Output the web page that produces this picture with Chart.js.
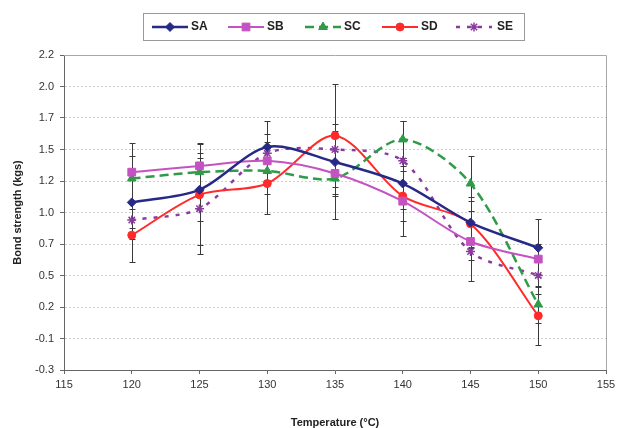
<!DOCTYPE html>
<html><head><meta charset="utf-8">
<script src="https://cdn.jsdelivr.net/npm/chart.js@4.4.0/dist/chart.umd.min.js"></script>
<style>html,body{margin:0;padding:0;background:#fff;}#wrap{width:620px;height:428px;position:relative;}</style>
</head><body><div id="wrap"><canvas id="c" width="620" height="428"></canvas></div>
<script>
// ---- data ----
const temperatures = [120, 125, 130, 135, 140, 145, 150];
const seriesNames = ['SA', 'SB', 'SC', 'SD', 'SE'];
const SA = [1.03, 1.13, 1.47, 1.35, 1.18, 0.87, 0.67];
const SB = [1.27, 1.32, 1.36, 1.26, 1.04, 0.72, 0.58];
const SC = [1.22, 1.27, 1.28, 1.22, 1.53, 1.18, 0.22];
const SD = [0.77, 1.09, 1.18, 1.56, 1.08, 0.86, 0.13];
const SE = [0.89, 0.98, 1.42, 1.45, 1.36, 0.64, 0.45];
const SA_err = [0.20, 0.25, 0.21, 0.25, 0.20, 0.20, 0.23];
const SB_err = [0.23, 0.18, 0.15, 0.18, 0.28, 0.15, 0.12];
const SC_err = [0.18, 0.15, 0.18, 0.32, 0.15, 0.22, 0.15];
const SD_err = [0.21, 0.40, 0.24, 0.41, 0.20, 0.18, 0.23];
const SE_err = [0.15, 0.36, 0.15, 0.20, 0.32, 0.23, 0.15];
const xTickValues = [115, 120, 125, 130, 135, 140, 145, 150, 155];
const yTickValues = [-0.3, -0.05, 0.2, 0.45, 0.7, 0.95, 1.2, 1.45, 1.7, 1.95, 2.2];
const yTickLabels = ['-0.3', '-0.1', '0.2', '0.5', '0.7', '1.0', '1.2', '1.5', '1.7', '2.0', '2.2'];
const xTitle = 'Temperature (°C)';
const yTitle = 'Bond strength (kgs)';

const seriesValues = [SA, SB, SC, SD, SE];
const seriesErrors = [SA_err, SB_err, SC_err, SD_err, SE_err];

// ---- styles ----
const FONT = "'Liberation Sans', Arial, sans-serif";
const styles = [
  {color: '#262a86', pointStyle: 'rectRot', radius: 4.5, dash: [], width: 2.5, pbw: 1},
  {color: '#c552c2', pointStyle: 'rect', radius: 5.5, dash: [], width: 2, pbw: 1},
  {color: '#2f9a48', pointStyle: 'triangle', radius: 5, dash: [9, 5], width: 2.5, pbw: 1},
  {color: '#ff2b2b', pointStyle: 'circle', radius: 4, dash: [], width: 2, pbw: 1},
  {color: '#8a3c9e', pointStyle: 'star', radius: 4.5, dash: [4, 7], width: 2.5, pbw: 1.5}
];

const datasets = seriesNames.map((name, si) => ({
  label: name,
  data: temperatures.map((t, i) => ({x: t, y: seriesValues[si][i]})),
  borderColor: styles[si].color,
  backgroundColor: styles[si].color,
  borderWidth: styles[si].width,
  borderDash: styles[si].dash,
  pointStyle: styles[si].pointStyle,
  pointRadius: styles[si].radius,
  pointBorderWidth: styles[si].pbw,
  pointBackgroundColor: styles[si].color,
  pointBorderColor: styles[si].color,
  tension: 0.3,
  fill: false
}));

const frame = {
  id: 'frame',
  beforeDatasetsDraw(chart) {
    const {ctx, chartArea: a, scales} = chart;
    ctx.save();
    ctx.strokeStyle = '#a8a8a8';
    ctx.lineWidth = 1;
    ctx.beginPath();
    ctx.moveTo(a.left, Math.round(a.top) + 0.5);
    ctx.lineTo(Math.round(a.right) + 0.5, Math.round(a.top) + 0.5);
    ctx.lineTo(Math.round(a.right) + 0.5, a.bottom);
    ctx.stroke();
    // error bars
    const xs = scales.x, ys = scales.y;
    ctx.strokeStyle = '#3a3a3a';
    ctx.lineWidth = 1;
    seriesErrors.forEach((errs, si) => {
      const vals = seriesValues[si];
      temperatures.forEach((t, i) => {
        const x = Math.round(xs.getPixelForValue(t)) + 0.5;
        const y1 = Math.round(ys.getPixelForValue(vals[i] + errs[i])) + 0.5;
        const y2 = Math.round(ys.getPixelForValue(vals[i] - errs[i])) + 0.5;
        ctx.beginPath();
        ctx.moveTo(x, y1); ctx.lineTo(x, y2);
        ctx.moveTo(x - 3, y1); ctx.lineTo(x + 3, y1);
        ctx.moveTo(x - 3, y2); ctx.lineTo(x + 3, y2);
        ctx.stroke();
      });
    });
    ctx.restore();
  }
};

const legendBox = {
  id: 'legendBox',
  afterDraw(chart) {
    const ctx = chart.ctx;
    const box = {l: 143, t: 13, r: 524, b: 40};
    ctx.save();
    ctx.fillStyle = '#fff';
    ctx.strokeStyle = '#999';
    ctx.lineWidth = 1;
    ctx.fillRect(box.l, box.t, box.r - box.l, box.b - box.t);
    ctx.strokeRect(box.l + 0.5, box.t + 0.5, box.r - box.l, box.b - box.t);
    const cy = (box.t + box.b) / 2 + 0.5;
    const starts = [152, 228, 305, 382, 456];
    const lineLen = 36;
    seriesNames.forEach((name, si) => {
      const st = styles[si];
      const x0 = starts[si];
      ctx.save();
      ctx.strokeStyle = st.color;
      ctx.lineWidth = st.width;
      ctx.setLineDash(st.dash);
      ctx.beginPath();
      ctx.moveTo(x0, cy); ctx.lineTo(x0 + lineLen, cy);
      ctx.stroke();
      ctx.setLineDash([]);
      ctx.fillStyle = st.color;
      ctx.strokeStyle = st.color;
      ctx.lineWidth = st.pbw;
      Chart.helpers.drawPoint(ctx, {pointStyle: st.pointStyle, radius: st.radius, borderWidth: st.pbw, rotation: 0}, x0 + lineLen / 2, cy);
      ctx.restore();
      ctx.fillStyle = '#222';
      ctx.font = 'bold 12px ' + FONT;
      ctx.textBaseline = 'middle';
      ctx.textAlign = 'left';
      ctx.fillText(name, x0 + lineLen + (si === 4 ? 5 : 3), cy);
    });
    ctx.restore();
  }
};

new Chart(document.getElementById('c'), {
  type: 'line',
  data: {datasets},
  options: {
    responsive: false,
    animation: false,
    devicePixelRatio: 1,
    layout: {padding: {top: 55, right: 14, left: 0, bottom: 0}},
    plugins: {legend: {display: false}, tooltip: {enabled: false}},
    scales: {
      x: {
        type: 'linear',
        min: 115, max: 155,
        afterBuildTicks(scale) { scale.ticks = xTickValues.map(v => ({value: v})); },
        afterFit(scale) { scale.height = 58; },
        ticks: {color: '#333', font: {family: FONT, size: 11}, padding: 4, maxRotation: 0,
          callback: (v) => String(v)},
        grid: {drawOnChartArea: false, drawTicks: true, tickLength: 4, tickColor: '#666'},
        border: {color: '#666', width: 1},
        title: {display: true, text: xTitle, color: '#222', font: {family: FONT, size: 11, weight: 'bold'}, padding: {top: 0, bottom: -2}}
      },
      y: {
        type: 'linear',
        min: -0.3, max: 2.2,
        afterBuildTicks(scale) { scale.ticks = yTickValues.map(v => ({value: v})); },
        afterFit(scale) { scale.width = 64; },
        ticks: {color: '#333', font: {family: FONT, size: 11}, padding: 6,
          callback: (v, i) => yTickLabels[i]},
        grid: {color: '#cfcfcf', lineWidth: 1, drawTicks: true, tickLength: 4, tickColor: '#666', tickBorderDash: []},
        border: {color: '#666', width: 1, dash: [2, 2]},
        title: {display: true, text: yTitle, color: '#222', font: {family: FONT, size: 11, weight: 'bold'}, padding: {top: 11, bottom: 0}}
      }
    }
  },
  plugins: [frame, legendBox]
});
</script>
</body></html>
